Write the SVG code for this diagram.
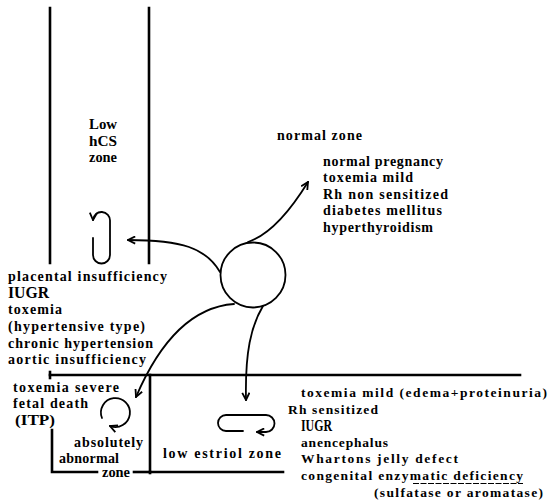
<svg xmlns="http://www.w3.org/2000/svg" width="549" height="500" viewBox="0 0 549 500">
<style>
.t{font-family:"Liberation Serif","Times New Roman",serif;font-weight:bold;font-size:14px;fill:#000}
.s{font-size:13.5px}
.b{font-size:16px}
.zl{fill:none;stroke:#000;stroke-width:2.6;stroke-linecap:square}
.c{fill:none;stroke:#000;stroke-width:1.8;stroke-linecap:round}
</style>
<defs>
<marker id="ah" viewBox="0 0 10 10" refX="9" refY="5" markerWidth="9" markerHeight="9" markerUnits="userSpaceOnUse" orient="auto">
<path d="M1,1 L9,5 L1,9" fill="none" stroke="#000" stroke-width="2"/>
</marker>
</defs>
<rect width="549" height="500" fill="#fff"/>

<g id="zone-lines">
<path class="zl" d="M50 8 L50 263"/>
<path class="zl" d="M149 8 L149 263"/>
<path class="zl" d="M50 375 L520 375"/>
<path class="zl" d="M50 372 L50 378"/>
<path class="zl" d="M150 375 L150 473"/>
<path class="zl" d="M150 472 L283 472"/>
<path class="zl" d="M52 430 L52 472 L97 472"/>
<path class="zl" d="M134 472 L150 472"/>
</g>

<g id="center">
<circle cx="253" cy="275" r="32.5" fill="none" stroke="#000" stroke-width="1.8"/>
</g>

<g id="connectors">
<path class="c" d="M248 242 C272 234 292 208 308 182" marker-end="url(#ah)"/>
<path class="c" d="M220 272 C206 248 182 240 128 240" marker-end="url(#ah)"/>
<path class="c" d="M234 304 C192 307 160 341 136 397" marker-end="url(#ah)"/>
<path class="c" d="M263 306 C251 326 245 352 246 400" marker-end="url(#ah)"/>
</g>

<g id="loops">
<path class="c" d="M93 238 L93 255 A8.5 8.5 0 0 0 110 255 L110 221 A8.5 8.5 0 0 0 93 220" marker-end="url(#ah)"/>
<path class="c" d="M102 418 A14.5 14.5 0 1 1 110 426" marker-end="url(#ah)"/>
<path class="c" d="M243 431 L226 431 A8 8 0 0 1 226 415 L266 415 A8.5 8.5 0 0 1 266 432 L257 432" marker-end="url(#ah)"/>
</g>

<g id="low-hcs-zone">
<text class="t" x="89" y="129" textLength="28" lengthAdjust="spacingAndGlyphs">Low</text>
<text class="t" x="89" y="146" textLength="28" lengthAdjust="spacingAndGlyphs">hCS</text>
<text class="t" x="89" y="162" textLength="28" lengthAdjust="spacingAndGlyphs">zone</text>
</g>

<g id="normal-zone">
<text class="t" x="277" y="140" textLength="85" lengthAdjust="spacing">normal zone</text>
<text class="t" x="323" y="166" textLength="120" lengthAdjust="spacing">normal pregnancy</text>
<text class="t" x="323" y="182" textLength="90" lengthAdjust="spacing">toxemia mild</text>
<text class="t" x="323" y="199" textLength="125" lengthAdjust="spacing">Rh non sensitized</text>
<text class="t" x="323" y="215" textLength="119" lengthAdjust="spacing">diabetes mellitus</text>
<text class="t" x="323" y="232" textLength="110" lengthAdjust="spacing">hyperthyroidism</text>
</g>

<g id="low-hcs-list">
<text class="t" x="8" y="281" textLength="159" lengthAdjust="spacing">placental  insufficiency</text>
<text class="t b" x="8" y="298" textLength="41" lengthAdjust="spacingAndGlyphs">IUGR</text>
<text class="t" x="8" y="314" textLength="54" lengthAdjust="spacing">toxemia</text>
<text class="t" x="8" y="331" textLength="137" lengthAdjust="spacing">(hypertensive type)</text>
<text class="t" x="8" y="348" textLength="145" lengthAdjust="spacing">chronic hypertension</text>
<text class="t" x="8" y="364" textLength="138" lengthAdjust="spacing">aortic insufficiency</text>
</g>

<g id="absolutely-abnormal-zone">
<text class="t" x="13" y="392" textLength="106" lengthAdjust="spacing">toxemia severe</text>
<text class="t" x="13" y="408" textLength="75" lengthAdjust="spacing">fetal death</text>
<text class="t" x="15" y="425" textLength="40" lengthAdjust="spacingAndGlyphs">(ITP)</text>
<text class="t" x="74" y="447" textLength="69" lengthAdjust="spacing">absolutely</text>
<text class="t" x="59" y="463" textLength="60" lengthAdjust="spacing">abnormal</text>
<text class="t" x="102" y="477" textLength="28" lengthAdjust="spacingAndGlyphs">zone</text>
</g>

<g id="low-estriol-zone">
<text class="t" x="163" y="458" textLength="118" lengthAdjust="spacing">low estriol zone</text>
<text class="t s" x="301" y="397" textLength="246" lengthAdjust="spacing">toxemia mild (edema+proteinuria)</text>
<text class="t s" x="288" y="414" textLength="90" lengthAdjust="spacing">Rh sensitized</text>
<text class="t b" x="301" y="431" textLength="31" lengthAdjust="spacingAndGlyphs">IUGR</text>
<text class="t s" x="301" y="447" textLength="87" lengthAdjust="spacing">anencephalus</text>
<text class="t s" x="301" y="463" textLength="157" lengthAdjust="spacing">Whartons jelly defect</text>
<text class="t s" x="301" y="480" textLength="222" lengthAdjust="spacing">congenital enzymatic deficiency</text>
<path d="M413 483.5 L523 483.5" stroke="#000" stroke-width="1" stroke-dasharray="6 1.5" fill="none"/>
<text class="t s" x="374" y="497" textLength="169" lengthAdjust="spacing">(sulfatase or aromatase)</text>
</g>
</svg>
